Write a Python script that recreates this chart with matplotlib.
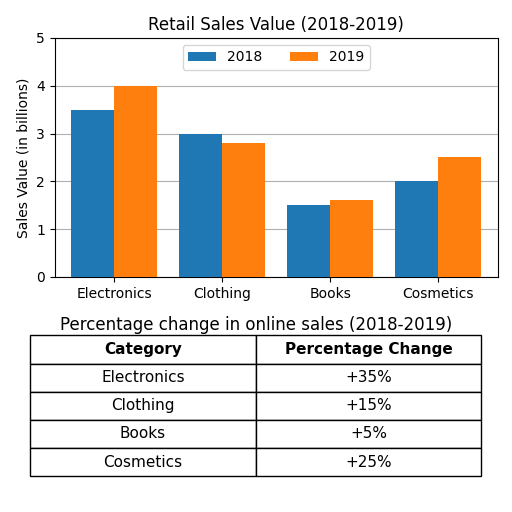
import matplotlib
matplotlib.use('Agg')
import matplotlib.pyplot as plt
import numpy as np

categories = ['Electronics', 'Clothing', 'Books', 'Cosmetics']
sales_2018 = [3.5, 3.0, 1.5, 2.0]
sales_2019 = [4.0, 2.8, 1.6, 2.5]
pct_change = ['+35%', '+15%', '+5%', '+25%']


def main():
    fig = plt.figure(figsize=(5.12, 5.12), dpi=100)
    ax = fig.add_axes([0.107, 0.459, 0.865, 0.467])
    x = np.arange(len(categories))
    w = 0.4
    ax.bar(x - w / 2, sales_2018, w, label='2018', color='#1f77b4', zorder=3)
    ax.bar(x + w / 2, sales_2019, w, label='2019', color='#ff7f0e', zorder=3)
    ax.set_xticks(x)
    ax.set_xticklabels(categories)
    ax.set_ylim(0, 5)
    ax.set_xlim(-0.55, 3.55)
    ax.yaxis.grid(True, color='#b0b0b0', zorder=0)
    ax.set_ylabel('Sales Value (in billions)')
    ax.set_title('Retail Sales Value (2018-2019)')
    ax.legend(loc='upper center', ncol=2)

    tax = fig.add_axes([0.059, 0.070, 0.881, 0.275])
    tax.axis('off')
    tax.set_title('Percentage change in online sales (2018-2019)', fontsize=12, pad=4)
    rows = [[c, p] for c, p in zip(categories, pct_change)]
    table = tax.table(cellText=rows, colLabels=['Category', 'Percentage Change'],
                      cellLoc='center', bbox=[0, 0, 1, 1])
    table.auto_set_font_size(False)
    table.set_fontsize(11)
    for (r, c), cell in table.get_celld().items():
        if r == 0:
            cell.set_text_props(weight='bold')
    fig.savefig('out.png', dpi=100)


if __name__ == '__main__':
    main()
